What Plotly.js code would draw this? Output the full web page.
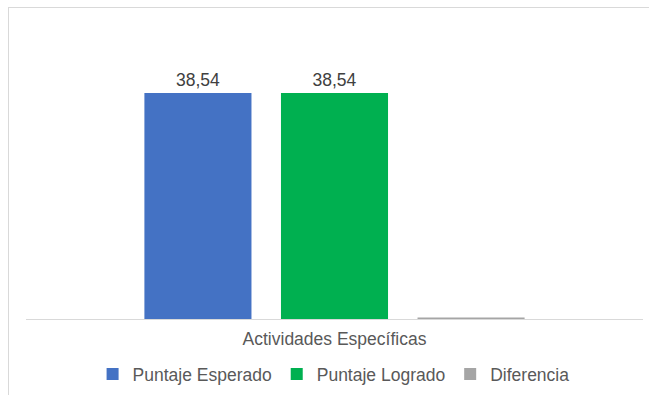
<!DOCTYPE html>
<html>
<head>
<meta charset="utf-8">
<script src="https://cdn.plot.ly/plotly-3.0.1.min.js"></script>
<style>
html,body{margin:0;padding:0;background:#fff;}
#chart{position:absolute;left:0;top:0;width:649px;height:395px;}
#frame{position:absolute;left:8px;top:7px;width:700px;height:420px;border:1px solid #d9d9d9;pointer-events:none;}
</style>
</head>
<body>
<div id="chart"></div>
<div id="frame"></div>
<script>
const categories = ["Actividades Específicas"];
const seriesNames = ["Puntaje Esperado", "Puntaje Logrado", "Diferencia"];
const puntajeEsperado = [38.54];
const puntajeLogrado = [38.54];
const diferencia = [0.25];
const colors = ["#4472c4", "#00b050", "#a5a5a5"];

const font = "Liberation Sans, Arial, sans-serif";

const traces = [
  {type: "bar", name: seriesNames[0], x: categories, y: puntajeEsperado,
   marker: {color: colors[0]}, text: puntajeEsperado, texttemplate: "%{y:.2f}",
   textposition: "outside", cliponaxis: false,
   textfont: {family: font, size: 17.5, color: "#404040"}, hoverinfo: "skip"},
  {type: "bar", name: seriesNames[1], x: categories, y: puntajeLogrado,
   marker: {color: colors[1]}, text: puntajeLogrado, texttemplate: "%{y:.2f}",
   textposition: "outside", cliponaxis: false,
   textfont: {family: font, size: 17.5, color: "#404040"}, hoverinfo: "skip"},
  {type: "bar", name: seriesNames[2], x: categories, y: diferencia,
   marker: {color: colors[2]}, hoverinfo: "skip"}
];

const layout = {
  width: 649, height: 395,
  margin: {l: 26, r: 6, t: 55, b: 76},
  paper_bgcolor: "rgba(0,0,0,0)", plot_bgcolor: "rgba(0,0,0,0)",
  separators: ",.",
  barmode: "group",
  bargap: 0.336,
  bargroupgap: 0.216,
  showlegend: true,
  legend: {orientation: "h", xref: "container", yref: "container",
           x: 0.514, xanchor: "center", y: 0.053, yanchor: "middle",
           font: {family: font, size: 17.5, color: "#595959"}, itemwidth: 30, traceorder: "normal"},
  xaxis: {showline: true, linecolor: "#d9d9d9", linewidth: 1, ticks: "", ticklabelstandoff: 4,
          tickfont: {family: font, size: 17.5, color: "#595959"}, fixedrange: true},
  yaxis: {range: [0, 45], visible: false, showgrid: false, zeroline: false, fixedrange: true},
  font: {family: font}
};

Plotly.newPlot("chart", traces, layout, {displayModeBar: false, staticPlot: true});
</script>
</body>
</html>
